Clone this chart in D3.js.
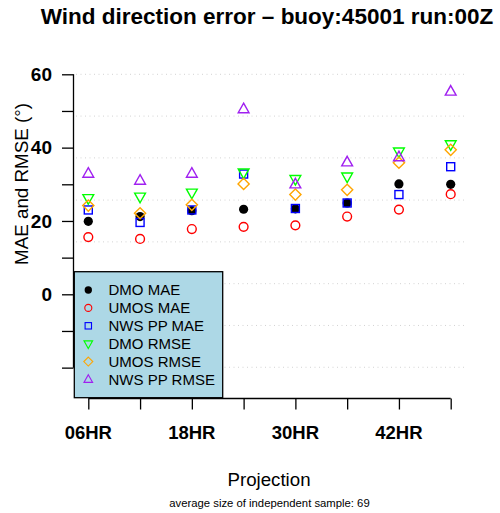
<!DOCTYPE html>
<html>
<head>
<meta charset="utf-8">
<script src="https://cdn.jsdelivr.net/npm/d3@7"></script>
<style>
  body { margin: 0; background: #fff; }
  text { font-family: "Liberation Sans", Arial, sans-serif; }
</style>
</head>
<body>
<svg id="chart" width="500" height="513"></svg>
<script>
// projections and the six error series (degrees)
var hours = [6, 12, 18, 24, 30, 36, 42, 48];
var tickLabels = ["06HR", "", "18HR", "", "30HR", "", "42HR", ""];
var dmoMae    = [19.9, 21.2, 22.8, 23.2, 23.3, 24.9, 30.1, 30.0];
var umosMae   = [15.6, 15.1, 17.8, 18.4, 18.8, 21.2, 23.1, 27.3];
var nwsMae    = [23.0, 19.6, 23.0, 32.8, 23.4, 24.9, 27.2, 34.8];
var dmoRmse   = [26.2, 26.6, 27.7, 33.2, 31.4, 32.1, 38.9, 40.9];
var umosRmse  = [24.2, 22.1, 24.4, 30.1, 27.2, 28.5, 35.9, 39.4];
var nwsRmse   = [32.9, 31.0, 32.9, 50.5, 30.0, 36.0, 37.4, 55.3];
var yTicks = [60, 50, 40, 30, 20, 10, 0, -10, -20];
var yLabels = [60, 40, 20, 0];
var gridVals = [60, 48.6, 37.2, 25.7, 14.3, 2.9, -8.5, -19.9];

var series = [
  {name: "DMO MAE",     vals: dmoMae,   color: "#000000", shape: "dot"},
  {name: "UMOS MAE",    vals: umosMae,  color: "#FF0000", shape: "circle"},
  {name: "NWS PP MAE",  vals: nwsMae,   color: "#0000FF", shape: "square"},
  {name: "DMO RMSE",    vals: dmoRmse,  color: "#00FF00", shape: "down"},
  {name: "UMOS RMSE",   vals: umosRmse, color: "#FFA500", shape: "diamond"},
  {name: "NWS PP RMSE", vals: nwsRmse,  color: "#A020F0", shape: "up"}
];

var svg = d3.select("#chart");

var x = d3.scaleLinear().domain([6, 48]).range([88.3, 450.7]);
var y = d3.scaleLinear().domain([0, 60]).range([294.3, 74.3]);

// dotted grid
svg.append("g").selectAll("line")
  .data(gridVals)
  .enter().append("line")
  .attr("x1", 76).attr("x2", 464)
  .attr("y1", d => y(d)).attr("y2", d => y(d))
  .attr("stroke", "#d3d3d3")
  .attr("stroke-width", 1)
  .attr("stroke-dasharray", "1,3.5");

// y axis
var ya = svg.append("g").attr("transform", "translate(73.5,0)")
  .call(d3.axisLeft(y).tickValues(yTicks).tickSize(11.5).tickFormat(""));
ya.select(".domain").attr("d", "M0," + y(60) + "V" + y(-20));
ya.selectAll("line, path").attr("stroke", "#000").attr("stroke-width", 1.3);

svg.append("g").selectAll("text")
  .data(yLabels)
  .enter().append("text")
  .attr("x", 52).attr("y", d => y(d) + 6.8)
  .attr("text-anchor", "end")
  .style("font-size", "19px").style("font-weight", "bold")
  .text(d => d);

// x axis
var xa = svg.append("g").attr("transform", "translate(0,398.5)")
  .call(d3.axisBottom(x).tickValues(hours).tickSize(11).tickFormat(""));
xa.select(".domain").attr("d", "M" + x(6) + ",0H" + x(48));
xa.selectAll("line, path").attr("stroke", "#000").attr("stroke-width", 1.3);

svg.append("g").selectAll("text")
  .data(hours)
  .enter().append("text")
  .attr("x", d => x(d)).attr("y", 439)
  .attr("text-anchor", "middle")
  .style("font-size", "18.5px").style("font-weight", "bold")
  .text((d, i) => tickLabels[i]);

// symbols
function drawSym(g, shape, color) {
  if (shape === "dot") {
    g.append("circle").attr("r", 4.6).attr("fill", color);
  } else if (shape === "circle") {
    g.append("circle").attr("r", 4.4).attr("fill", "none").attr("stroke", color).attr("stroke-width", 1.4);
  } else if (shape === "square") {
    g.append("rect").attr("x", -4).attr("y", -4).attr("width", 8).attr("height", 8)
      .attr("fill", "none").attr("stroke", color).attr("stroke-width", 1.4);
  } else if (shape === "diamond") {
    g.append("path").attr("d", "M0,-5.6L5.6,0L0,5.6L-5.6,0Z")
      .attr("fill", "none").attr("stroke", color).attr("stroke-width", 1.4);
  } else if (shape === "up") {
    g.append("path").attr("d", "M0,-6L5.4,3.6L-5.4,3.6Z")
      .attr("fill", "none").attr("stroke", color).attr("stroke-width", 1.4);
  } else if (shape === "down") {
    g.append("path").attr("d", "M0,6L5.4,-3.6L-5.4,-3.6Z")
      .attr("fill", "none").attr("stroke", color).attr("stroke-width", 1.4);
  }
}

series.forEach(function(s) {
  svg.append("g").selectAll("g")
    .data(s.vals)
    .enter().append("g")
    .attr("transform", (d, i) => "translate(" + x(hours[i]) + "," + y(d) + ")")
    .each(function() { drawSym(d3.select(this), s.shape, s.color); });
});

// legend
var leg = svg.append("g");
leg.append("rect")
  .attr("x", 74.3).attr("y", 271.7).attr("width", 148.4).attr("height", 126)
  .attr("fill", "#ADD8E6").attr("stroke", "#000").attr("stroke-width", 1.3);
series.forEach(function(s, i) {
  var row = leg.append("g").attr("transform", "translate(0," + (290 + i * 17.9) + ")");
  var sym = row.append("g").attr("transform", "translate(88.3,0) scale(0.8)");
  drawSym(sym, s.shape, s.color);
  row.append("text").attr("x", 108.5).attr("y", 5.3)
    .style("font-size", "15px").text(s.name);
});

// titles
svg.append("text").attr("x", 267).attr("y", 24)
  .attr("text-anchor", "middle")
  .style("font-size", "22.5px").style("font-weight", "bold")
  .text("Wind direction error \u2013 buoy:45001 run:00Z");

svg.append("text")
  .attr("transform", "translate(27.5,184) rotate(-90)")
  .attr("text-anchor", "middle")
  .style("font-size", "18.8px")
  .text("MAE and RMSE (\u00B0)");

svg.append("text").attr("x", 269).attr("y", 485.5)
  .attr("text-anchor", "middle")
  .style("font-size", "18.7px")
  .text("Projection");

svg.append("text").attr("x", 269.5).attr("y", 506.5)
  .attr("text-anchor", "middle")
  .style("font-size", "11.3px")
  .text("average size of independent sample: 69");
</script>
</body>
</html>
